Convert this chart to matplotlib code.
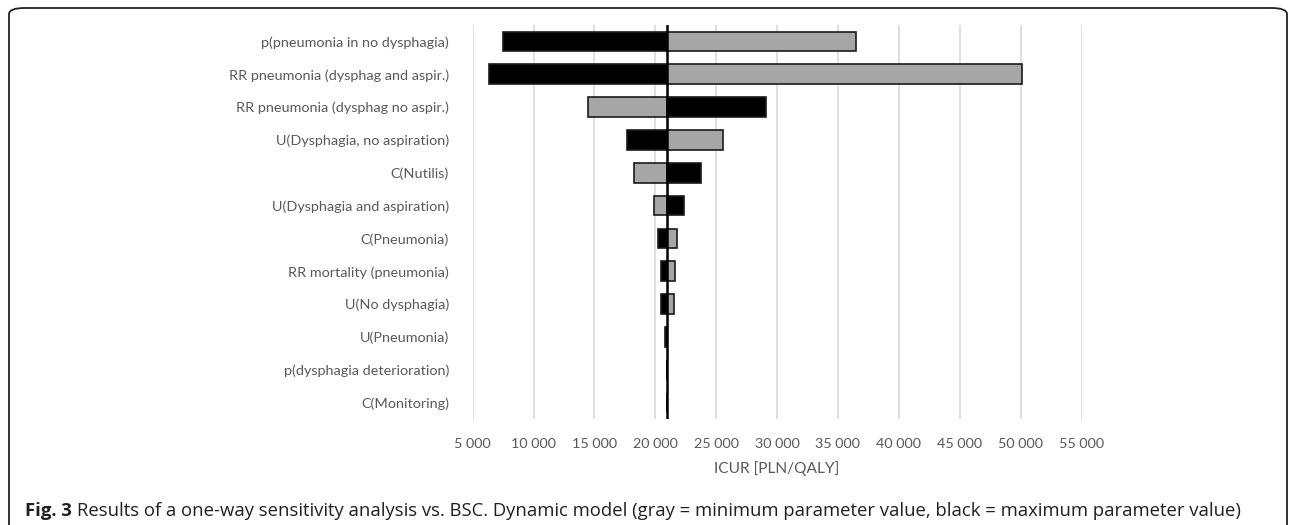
import matplotlib
matplotlib.use("Agg")
import matplotlib.pyplot as plt
from matplotlib.patches import FancyBboxPatch

# parameters, top row first
params = [
    "p(pneumonia in no dysphagia)",
    "RR pneumonia (dysphag and aspir.)",
    "RR pneumonia (dysphag no aspir.)",
    "U(Dysphagia, no aspiration)",
    "C(Nutilis)",
    "U(Dysphagia and aspiration)",
    "C(Pneumonia)",
    "RR mortality (pneumonia)",
    "U(No dysphagia)",
    "U(Pneumonia)",
    "p(dysphagia deterioration)",
    "C(Monitoring)",
]
base_icur = 20950
# ICUR at minimum (gray) and maximum (black) parameter value
icur_min = [36520, 50150, 14510, 25560, 18210, 19850, 21780, 21580, 21500, 20990, 20970, 20960]
icur_max = [7490, 6340, 29060, 17710, 23770, 22350, 20180, 20430, 20490, 20820, 20950, 20950]
xticks = list(range(5000, 55001, 5000))

W, H = 1290, 525
fig = plt.figure(figsize=(W / 100, H / 100), dpi=100)

# rounded frame around the whole figure
frame = FancyBboxPatch((9 / W, 0.0 - 10 / H), (1287 - 9) / W, (H - 8 + 10) / H,
                       boxstyle="round,pad=0,rounding_size=0.012",
                       transform=fig.transFigure, fill=False,
                       edgecolor="#231f20", linewidth=1.3, clip_on=False)
fig.patches.append(frame)

ax = fig.add_axes([472.7 / W, 1 - 419 / H, (1081.5 - 472.7) / W, (419 - 25) / H])

ypos = list(range(len(params)))
for y, lo, hi in zip(ypos, icur_min, icur_max):
    ax.barh(y, lo - base_icur, left=base_icur, height=0.6, color="#a6a6a6",
            edgecolor="#1a1a1a", linewidth=1.2, zorder=3)
    ax.barh(y, hi - base_icur, left=base_icur, height=0.6, color="black",
            edgecolor="#1a1a1a", linewidth=1.2, zorder=3)

ax.axvline(base_icur, color="black", linewidth=1.8, zorder=4)

ax.set_xlim(5000, 55000)
ax.set_ylim(len(params) - 0.5, -0.5)
ax.set_xticks(xticks)
ax.set_xticklabels([f"{v:,}".replace(",", " ") for v in xticks])
ax.set_yticks(ypos)
ax.set_yticklabels(params)
ax.grid(axis="x", color="#d9d9d9", linewidth=1.2, zorder=0)
ax.set_axisbelow(True)
for s in ax.spines.values():
    s.set_visible(False)
ax.tick_params(axis="both", length=0, colors="#595959", labelsize=10.4)
ax.tick_params(axis="y", pad=17)
ax.tick_params(axis="x", pad=14)
for lab in ax.get_xticklabels() + ax.get_yticklabels():
    lab.set_fontfamily("Lato")
ax.set_xlabel("ICUR [PLN/QALY]", fontsize=11.2, color="#595959", fontfamily="Lato", labelpad=8)

# caption with bold "Fig. 3"
cap_y = 1 - 511 / H
t = fig.text(25 / W, cap_y, "Fig. 3", fontsize=13.3, fontweight="bold",
             fontfamily="Open Sans", color="#231f20", va="center")
fig.canvas.draw()
bb = t.get_window_extent()
fig.text(bb.x1 / W + 5 / W, cap_y,
         "Results of a one-way sensitivity analysis vs. BSC. Dynamic model "
         "(gray = minimum parameter value, black = maximum parameter value)",
         fontsize=13.3, fontfamily="Open Sans", color="#231f20", va="center")

fig.savefig("out.png", dpi=100)
